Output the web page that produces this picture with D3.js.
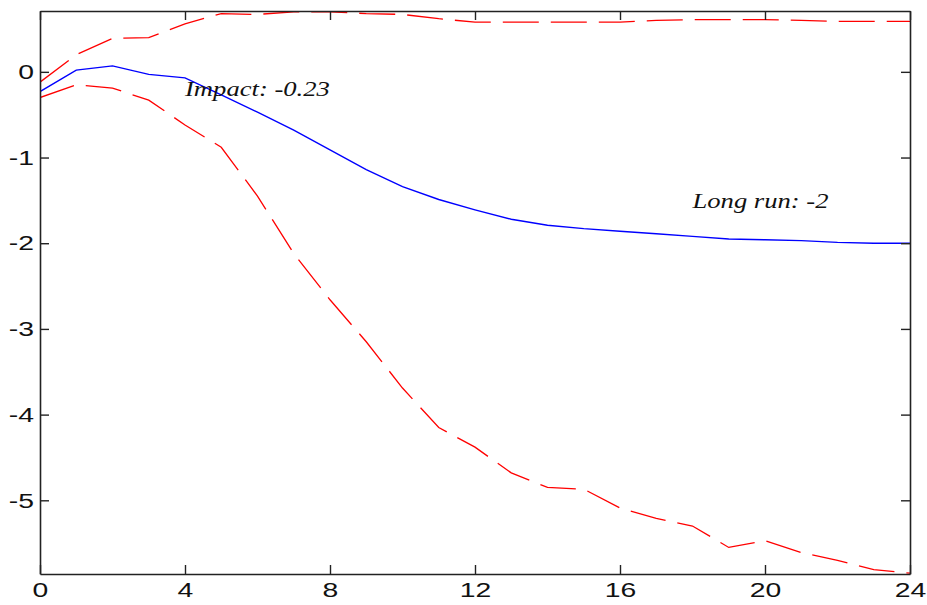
<!DOCTYPE html>
<html>
<head>
<meta charset="utf-8">
<script src="https://cdn.jsdelivr.net/npm/d3@7"></script>
<style>
  html, body { margin: 0; padding: 0; background: #fff; }
  svg { display: block; }
</style>
</head>
<body>
<svg id="chart" width="927" height="605"></svg>
<script>
// ---- data ----
const horizons = [0,1,2,3,4,5,6,7,8,9,10,11,12,13,14,15,16,17,18,19,20,21,22,23,24];
const estimate = [-0.23,0.02,0.07,-0.03,-0.07,-0.27,-0.47,-0.68,-0.91,-1.14,-1.34,-1.49,-1.61,-1.72,-1.79,-1.83,-1.86,-1.89,-1.92,-1.95,-1.96,-1.97,-1.99,-2.0,-2.0];
const upperBand = [-0.12,0.20,0.39,0.40,0.56,0.68,0.67,0.70,0.70,0.68,0.67,0.62,0.58,0.58,0.58,0.58,0.58,0.60,0.61,0.61,0.61,0.60,0.59,0.59,0.59];
const lowerBand = [-0.30,-0.15,-0.19,-0.33,-0.62,-0.88,-1.45,-2.12,-2.66,-3.15,-3.69,-4.15,-4.38,-4.68,-4.85,-4.87,-5.09,-5.21,-5.30,-5.55,-5.47,-5.61,-5.70,-5.81,-5.85];
const xTicks = [0,4,8,12,16,20,24];
const yTicks = [0,-1,-2,-3,-4,-5];
const annotations = [
  { text: "Impact: -0.23", x: 4, y: -0.28 },
  { text: "Long run: -2", x: 18, y: -1.59 }
];

// ---- layout ----
const mLeft = 40, mRight = 910, mTop = 11, mBottom = 574;
const stretch = 1.35;      // horizontal stretch of the original tick labels
const annotStretch = 1.21; // horizontal stretch of the annotation texts
const svg = d3.select("#chart");

const x = d3.scaleLinear().domain([0, 24]).range([mLeft, mRight]);
const y = d3.scaleLinear().domain([-5.86, 0.71]).range([mBottom, mTop]);

svg.append("defs").append("clipPath").attr("id", "clip")
  .append("rect").attr("x", mLeft).attr("y", mTop - 1)
  .attr("width", mRight - mLeft).attr("height", mBottom - mTop + 1);

const line = d3.line().x((d, i) => x(horizons[i])).y(d => y(d));

const plot = svg.append("g").attr("clip-path", "url(#clip)");

plot.append("path").datum(upperBand)
  .attr("d", line).attr("fill", "none")
  .attr("stroke", "#ff0000").attr("stroke-width", 1.3)
  .attr("stroke-dasharray", "36,12");

plot.append("path").datum(lowerBand)
  .attr("d", line).attr("fill", "none")
  .attr("stroke", "#ff0000").attr("stroke-width", 1.3)
  .attr("stroke-dasharray", "36,12");

plot.append("path").datum(estimate)
  .attr("d", line).attr("fill", "none")
  .attr("stroke", "#0000ff").attr("stroke-width", 1.4);

// ---- axes ----
const tickLen = 9;
const fontFam = "'Liberation Sans', Arial, sans-serif";

const gx = svg.append("g").attr("transform", `translate(0,${mBottom})`)
  .call(d3.axisBottom(x).tickValues(xTicks).tickSizeInner(-tickLen).tickSizeOuter(0).tickPadding(9).tickFormat(d3.format("d")));
const gxTop = svg.append("g").attr("transform", `translate(0,${mTop})`)
  .call(d3.axisTop(x).tickValues(xTicks).tickSizeInner(-tickLen).tickSizeOuter(0).tickFormat(""));
const gy = svg.append("g").attr("transform", `translate(${mLeft},0)`)
  .call(d3.axisLeft(y).tickValues(yTicks).tickSizeInner(-tickLen).tickSizeOuter(0).tickPadding(5).tickFormat(d3.format("d")));
const gyRight = svg.append("g").attr("transform", `translate(${mRight},0)`)
  .call(d3.axisRight(y).tickValues(yTicks).tickSizeInner(-tickLen).tickSizeOuter(0).tickFormat(""));

[gx, gxTop, gy, gyRight].forEach(g => {
  g.select(".domain").attr("stroke", "#222").attr("stroke-width", 1.6);
  g.selectAll(".tick line").attr("stroke", "#222").attr("stroke-width", 1.4);
  g.selectAll(".tick text").attr("fill", "#111")
    .style("font-family", fontFam).style("font-size", "21px")
    .attr("transform", `scale(${stretch},1)`);
});
gy.selectAll(".tick text")
  .text(d => d === 0 ? "0" : "-" + Math.abs(d))
  .attr("x", -6 / stretch);
gx.selectAll(".tick text").attr("y", 8).attr("dy", "0.71em");

// ---- annotations ----
svg.selectAll("text.annot").data(annotations).enter().append("text")
  .attr("class", "annot")
  .attr("fill", "#111")
  .style("font-family", "'Liberation Serif', 'Times New Roman', serif")
  .style("font-style", "italic")
  .style("font-size", "22px")
  .attr("transform", d => `translate(${x(d.x)},${y(d.y)}) scale(${annotStretch},1)`)
  .text(d => d.text);
</script>
</body>
</html>
